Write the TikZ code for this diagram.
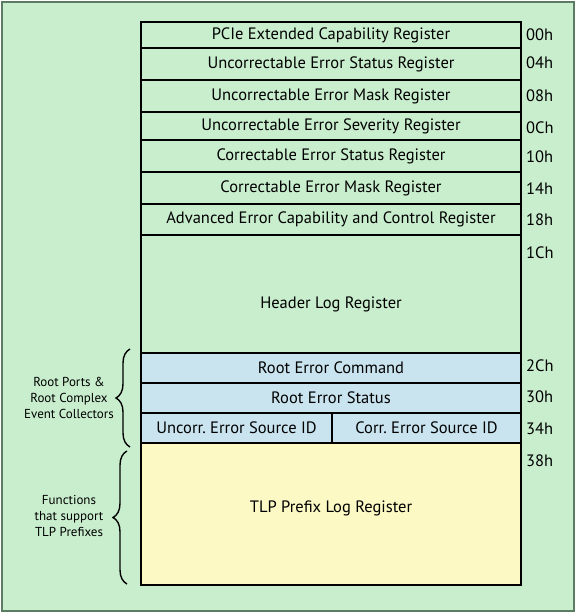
\documentclass[tikz,border=0pt]{standalone}
\usepackage{fontspec}
\setmainfont{PT Sans}
\usepackage{xcolor}
\usepackage{tikz}
\definecolor{bggreen}{HTML}{C9EECE}
\definecolor{framegreen}{HTML}{5B7B62}
\definecolor{rootblue}{HTML}{C9E4EF}
\definecolor{tlpyellow}{HTML}{FCF9C5}
\tikzset{
	reg/.style={draw=black, line width=2pt, fill=bggreen, minimum width=380pt, inner sep=0pt, font=\fontsize{16.5}{19}\selectfont},
	rootreg/.style={reg, fill=rootblue},
	tlpreg/.style={reg, fill=tlpyellow}
}
\tikzstyle{off} = [anchor=west, inner sep=0pt, font=\fontsize{16.5}{19}\selectfont]
\tikzstyle{side} = [align=center, inner sep=0pt, font=\fontsize{13}{16}\selectfont]
\tikzstyle{brc} = [draw, line width=1.4pt, decorate, decoration={brace, amplitude=14pt}]
\usetikzlibrary{decorations.pathreplacing}

\begin{document}
\begin{tikzpicture}[x=1pt, y=-1pt]
  \useasboundingbox (0,0) rectangle (576,613);
  \draw[framegreen, line width=1.5pt, fill=bggreen] (2,2) rectangle (574,611);

  \node[reg, minimum height=26pt] (pcie) at (331,35) {PCIe Extended Capability Register};
  \node[reg, minimum height=32pt] (ues) at (331,64) {Uncorrectable Error Status Register};
  \node[reg, minimum height=32pt] (uem) at (331,96) {Uncorrectable Error Mask Register};
  \node[reg, minimum height=28pt] (uesev) at (331,126) {Uncorrectable Error Severity Register};
  \node[reg, minimum height=32pt] (ces) at (331,156) {Correctable Error Status Register};
  \node[reg, minimum height=32pt] (cem) at (331,188) {Correctable Error Mask Register};
  \node[reg, minimum height=31pt] (aecc) at (331,219.5) {Advanced Error Capability and Control Register};
  \node[reg, minimum height=118pt, label={[name=hlogtxt, yshift=-10pt, font=\fontsize{16.5}{19}\selectfont]center:Header Log Register}] (hlog) at (331,294) {};
  \node[rootreg, minimum height=30pt] (rec) at (331,368) {Root Error Command};
  \node[rootreg, minimum height=30pt] (res) at (331,398) {Root Error Status};
  \node[rootreg, minimum height=30pt, minimum width=191pt] (srcu) at (236.5,428) {Uncorr.\ Error Source ID};
  \node[rootreg, minimum height=30pt, minimum width=189pt] (srcc) at (426.5,428) {Corr.\ Error Source ID};
  \node[tlpreg, minimum height=142pt, label={[name=tlptxt, yshift=6pt, font=\fontsize{16.5}{19}\selectfont]center:TLP Prefix Log Register}] (tlp) at (331,514) {};

  \node[off] (o00) at (526,35) {00h};
  \node[off] (o04) at (526,63) {04h};
  \node[off] (o08) at (526,96) {08h};
  \node[off] (o0C) at (526,128) {0Ch};
  \node[off] (o10) at (526,157) {10h};
  \node[off] (o14) at (526,189) {14h};
  \node[off] (o18) at (526,220) {18h};
  \node[off] (o1C) at (526,253) {1Ch};
  \node[off] (o2C) at (526,366) {2Ch};
  \node[off] (o30) at (526,397) {30h};
  \node[off] (o34) at (526,429) {34h};
  \node[off] (o38) at (526,461) {38h};

  \coordinate (rtop) at (130,349);
  \coordinate (rbot) at (130,447);
  \coordinate (ttop) at (127,451);
  \coordinate (tbot) at (127,584);
  \draw[brc] (rbot) -- (rtop);
  \draw[brc] (tbot) -- (ttop);

  \node[side] (rootlbl) at (69,398) {Root Ports \&\\Root Complex\\Event Collectors};
  \node[side] (tlplbl) at (69,516) {Functions\\that support\\TLP Prefixes};
\end{tikzpicture}
\end{document}
